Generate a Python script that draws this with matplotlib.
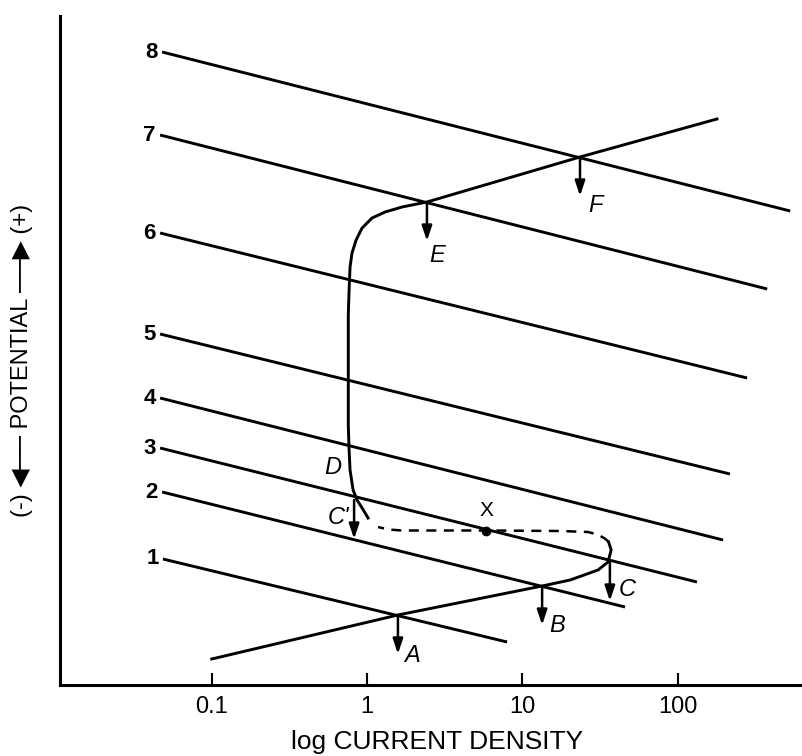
import matplotlib
matplotlib.use("Agg")
import matplotlib.pyplot as plt
import numpy as np

plt.rcParams['font.family'] = ['Liberation Sans', 'DejaVu Sans']

# cathodic lines 1..8 : start / end (current density, potential)
line_names = ["1", "2", "3", "4", "5", "6", "7", "8"]
line_x0 = [0.0485, 0.0479, 0.0465, 0.0465, 0.0465, 0.0465, 0.0465, 0.0479]
line_e0 = [1.26, 1.93, 2.37, 2.87, 3.51, 4.52, 5.50, 6.33]
line_x1 = [7.97, 45.8, 133, 196, 217, 280, 377, 530]
line_e1 = [0.43, 0.78, 1.03, 1.45, 2.11, 3.07, 3.96, 4.74]

# anodic curve, active part up to the nose at C
act_x = [0.100, 1.58, 13.4, 20.3, 30.7, 35.6, 37.3, 35.9]
act_e = [0.26, 0.70, 0.99, 1.05, 1.15, 1.23, 1.35, 1.43]
# dashed part (unstable branch through X)
dash_x = [35.9, 34.3, 31.0, 26.5, 17.5, 5.84, 1.68, 1.366, 1.177]
dash_e = [1.43, 1.46, 1.50, 1.53, 1.54, 1.545, 1.545, 1.555, 1.58]
# passive and transpassive part
pas_x = [1.015, 0.929, 0.862, 0.813, 0.777, 0.766, 0.757, 0.757, 0.766, 0.777,
         0.800, 0.850, 0.929, 1.077, 1.306, 1.68, 2.43, 23.5, 179]
pas_e = [1.67, 1.77, 1.85, 1.95, 2.15, 2.35, 2.60, 3.70, 3.95, 4.18,
         4.32, 4.45, 4.57, 4.67, 4.73, 4.78, 4.83, 5.28, 5.66]

# intersection points with arrows
pt_names = ["A", "B", "C", "C'", "E", "F"]
pt_x = [1.58, 13.4, 36.6, 0.825, 2.43, 23.5]
pt_e = [0.70, 0.99, 1.23, 1.85, 4.83, 5.28]
arrow_len = 0.39
lab_x = [1.95, 16.7, 47.2, 0.651, 2.82, 29.4]
lab_e = [0.30, 0.60, 0.95, 1.68, 4.30, 4.80]

point_x = 5.84
point_e = 1.545

xticks = [0.1, 1, 10, 100]
xticklabels = ["0.1", "1", "10", "100"]

fig = plt.figure(figsize=(8.03, 7.56), dpi=100)
ax = fig.add_axes([60/803, 71/756, 743/803, 669/756])
ax.set_xscale('log')
ax.set_xlim(0.01054, 641)
ax.set_ylim(0, 6.69)

for n, xa, ea, xb, eb in zip(line_names, line_x0, line_e0, line_x1, line_e1):
    ax.plot([xa, xb], [ea, eb], c='k', lw=2.1, solid_capstyle='butt')
    ax.text(xa*0.94, ea, n, ha='right', va='center', fontsize=16, fontweight='bold')

ax.plot(act_x, act_e, c='k', lw=2.1)
ax.plot(dash_x, dash_e, c='k', lw=1.8, ls=(0, (4, 3)))
ax.plot(pas_x, pas_e, c='k', lw=2.1)

for n, x, e, lx, le in zip(pt_names, pt_x, pt_e, lab_x, lab_e):
    ax.annotate('', xy=(x, e - arrow_len), xytext=(x, e),
                arrowprops=dict(arrowstyle='-|>,head_length=0.9,head_width=0.3',
                                lw=1.8, color='k', shrinkA=0, shrinkB=0))
    ax.text(lx, le, n, ha='center', va='center', fontsize=17, style='italic')

ax.text(0.604, 2.18, "D", ha='center', va='center', fontsize=17, style='italic')
ax.plot([point_x], [point_e], 'o', c='k', ms=6)
ax.text(point_x, 1.74, "X", ha='center', va='center', fontsize=15)

for s in ['top', 'right']:
    ax.spines[s].set_visible(False)
for s in ['left', 'bottom']:
    ax.spines[s].set_linewidth(2.2)
ax.set_yticks([])
ax.set_xticks(xticks)
ax.set_xticklabels(xticklabels, fontsize=17)
ax.minorticks_off()
ax.tick_params(axis='x', direction='in', length=9, width=1.5, pad=8)
ax.set_xlabel("log CURRENT DENSITY", fontsize=19)
ax.xaxis.set_label_coords(0.508, -0.067)

fig.text(22/803, 1 - 360/756, "(-) \u25c0\u2500\u2500 POTENTIAL \u2500\u2500\u25b6 (+)",
         rotation=90, ha='center', va='center', fontsize=17)

fig.savefig("out.png", dpi=100)
